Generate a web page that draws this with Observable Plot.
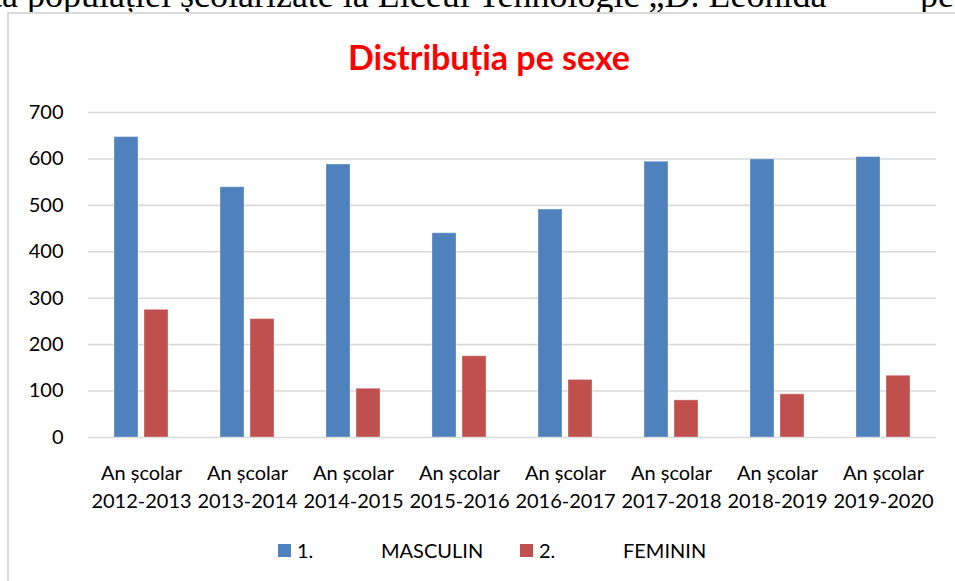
<!DOCTYPE html>
<html>
<head>
<meta charset="utf-8">
<script src="https://cdn.jsdelivr.net/npm/d3@7"></script>
<script src="https://cdn.jsdelivr.net/npm/@observablehq/plot@0.6"></script>
<style>
  html, body { margin: 0; padding: 0; background: #fff; width: 955px; height: 581px; overflow: hidden; position: relative; }
  .top-text { position: absolute; font-family: "Liberation Serif", serif; font-size: 36px; line-height: 36px; color: #000; white-space: nowrap; top: -23px; }
  .frame { position: absolute; left: 7px; top: 12px; width: 1000px; height: 700px; border-left: 2px solid #d9d9d9; border-top: 2px solid #d9d9d9; background: #fff; }
  .title { position: absolute; left: 0; width: 978px; top: 37px; text-align: center; font-family: Lato, sans-serif; font-weight: bold; font-size: 34px; line-height: 40px; color: #ff0000; }
  #chart { position: absolute; left: 0; top: 0; }
  .legend { position: absolute; top: 538px; left: 0; width: 955px; height: 24px; font-family: Lato, sans-serif; font-size: 20px; line-height: 24px; color: #000; }
  .legend span { position: absolute; top: 0; white-space: nowrap; }
  .legend .sw { width: 13px; height: 13px; top: 6px; }
</style>
</head>
<body>
<div class="top-text" style="left:-8px">ța populației școlarizate la Liceul Tehnologic „D. Leonida”</div>
<div class="top-text" style="left:920px">pe</div>
<div class="frame"></div>
<div class="title">Distribuția pe sexe</div>
<div id="chart"></div>
<div class="legend" id="legend"></div>
<script>
const years = ["2012-2013", "2013-2014", "2014-2015", "2015-2016", "2016-2017", "2017-2018", "2018-2019", "2019-2020"];
const categoryPrefix = "An școlar";
const masculin = [647, 539, 588, 440, 491, 594, 599, 604];
const feminin = [275, 255, 105, 175, 124, 80, 93, 133];
const seriesKeys = ["MASCULIN", "FEMININ"];
const seriesLabels = ["1.", "2."];
const seriesColors = ["#4f81bd", "#c0504d"];
const yTicks = [0, 100, 200, 300, 400, 500, 600, 700];

const rows = years.flatMap((yr, i) => [
  {year: yr, sex: seriesKeys[0], value: masculin[i]},
  {year: yr, sex: seriesKeys[1], value: feminin[i]}
]);

const chart = Plot.plot({
  width: 955,
  height: 520,
  marginLeft: 85,
  marginRight: 16,
  marginTop: 112,
  marginBottom: 83,
  style: {fontFamily: "Lato, sans-serif", fontSize: "20px", color: "#000", background: "transparent", overflow: "visible"},
  fx: {domain: years, padding: 0, label: null, axis: null},
  x: {domain: seriesKeys, paddingInner: 0.216, paddingOuter: 0.852, axis: null},
  y: {domain: [0, 700], label: null},
  color: {domain: seriesKeys, range: seriesColors},
  marks: [
    Plot.gridY(yTicks, {stroke: "#d9d9d9", strokeOpacity: 1, strokeWidth: 1.6}),
    Plot.barY(rows, {fx: "year", x: "sex", y: "value", fill: "sex", stroke: "#ffffff", strokeOpacity: 0.35, strokeWidth: 1}),
    Plot.axisY(yTicks, {tickSize: 0, tickPadding: 25, label: null, fontSize: 20}),
    Plot.axisFx({anchor: "bottom", tickSize: 0, tickPadding: 22, lineHeight: 1.43, label: null, fontSize: 20, tickFormat: d => categoryPrefix + "\n" + d})
  ]
});
document.getElementById("chart").appendChild(chart);

const legend = document.getElementById("legend");
const legendPos = [
  {sw: 278, num: 297, name: 381},
  {sw: 520, num: 539, name: 623}
];
seriesKeys.forEach((k, i) => {
  const sw = document.createElement("span");
  sw.className = "sw";
  sw.style.left = legendPos[i].sw + "px";
  sw.style.background = seriesColors[i];
  legend.appendChild(sw);
  const num = document.createElement("span");
  num.textContent = seriesLabels[i];
  num.style.left = legendPos[i].num + "px";
  legend.appendChild(num);
  const nm = document.createElement("span");
  nm.textContent = k;
  nm.style.left = legendPos[i].name + "px";
  legend.appendChild(nm);
});
</script>
</body>
</html>
